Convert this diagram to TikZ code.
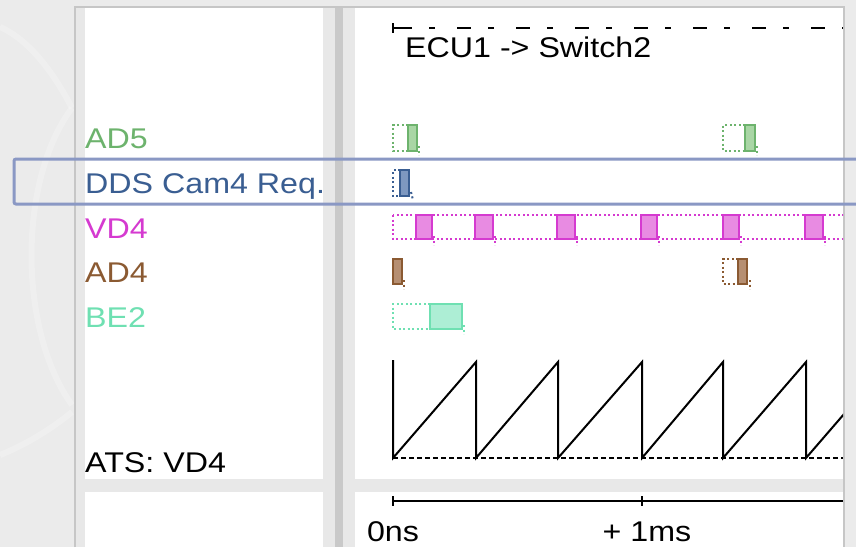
\documentclass[tikz,border=0pt]{standalone}
\usepackage{fontspec}
\setmainfont{Liberation Sans}[FakeStretch=1.13]
\definecolor{bgout}{HTML}{EBEBEB}
\definecolor{gutter}{HTML}{E8E8E8}
\definecolor{framec}{HTML}{C6C6C6}
\definecolor{dividerc}{HTML}{C9C9C9}
\definecolor{hlc}{HTML}{8A98C4}
\definecolor{cgreen}{HTML}{6DB36D}\definecolor{fgreen}{HTML}{A9D6A5}
\definecolor{cblue}{HTML}{3A5E92}\definecolor{fblue}{HTML}{7E98C0}
\definecolor{cmag}{HTML}{D53AD0}\definecolor{fmag}{HTML}{E88BE2}
\definecolor{cbrown}{HTML}{8B5A32}\definecolor{fbrown}{HTML}{B68F72}
\definecolor{cmint}{HTML}{6FE0B2}\definecolor{fmint}{HTML}{ADEED5}
\begin{document}
\begin{tikzpicture}[x=1pt,y=-1pt,
  every node/.style={inner sep=0pt,font=\fontsize{28.5}{32}\selectfont},
  lbl/.style={anchor=base west},
  win/.style={line width=2pt,dash pattern=on 2pt off 2.5pt},
  evt/.style={line width=2.4pt},
  arcline/.style={white,opacity=0.22,line width=6pt},
  plotline/.style={line width=2pt,black}]
\useasboundingbox (0,0) rectangle (856,547);
\fill[bgout] (0,0) rectangle (856,547);
% faint background arcs
\draw[arcline] (0,27) .. controls (30,40) and (55,75) .. (72,108);
\draw[arcline] (72,108) .. controls (18,180) and (18,330) .. (72,405);
\draw[arcline] (72,412) .. controls (50,430) and (25,445) .. (0,455);
% frame
\fill[gutter] (75,7) rectangle (844,547);
\draw[framec,line width=1.5pt] (75,547) -- (75,7) -- (844,7) -- (844,547);
\fill[white] (85,8) rectangle (323,479);
\fill[white] (85,492) rectangle (323,547);
\fill[white] (355,8) rectangle (843,479);
\fill[white] (355,492) rectangle (843,547);
\fill[dividerc] (335,8) rectangle (343,547);
% row labels
\node[lbl,text=cgreen] (lad5) at (85,148) {AD5};
\node[lbl,text=cblue] (ldds) at (85,193) {DDS Cam4 Req.};
\node[lbl,text=cmag] (lvd4) at (85,238) {VD4};
\node[lbl,text=cbrown] (lad4) at (85,282) {AD4};
\node[lbl,text=cmint] (lbe2) at (85,327) {BE2};
\node[lbl,text=black] (lats) at (85,472) {ATS: VD4};
% right panel content
\begin{scope}
\clip (355,8) rectangle (843,479);
% header
\draw[plotline] (393,23) -- (393,33);
\draw[plotline] (393,28) -- (404,28);
\draw[plotline,dash pattern=on 14pt off 17pt on 6pt off 22pt,dash phase=54pt] (393,28) -- (843,28);
\node[lbl] (ecu) at (405,57) {ECU1 -> Switch2};
% AD5
\draw[win,cgreen] (408,125) -- (393,125) -- (393,151) -- (408,151);
\draw[win,cgreen] (419,146) -- (419,155);
\draw[evt,cgreen,fill=fgreen] (408,125) rectangle (417,151);
\draw[win,cgreen] (745,125) -- (723,125) -- (723,151) -- (745,151);
\draw[win,cgreen] (757,146) -- (757,155);
\draw[evt,cgreen,fill=fgreen] (745,125) rectangle (755,151);
% DDS
\draw[win,cblue] (400,170) -- (393,170) -- (393,196) -- (400,196);
\draw[win,cblue] (411,192) -- (413,200);
\draw[evt,cblue,fill=fblue] (400,170) rectangle (409,196);
% VD4
\draw[win,cmag] (393,215) rectangle (860,239);
\foreach \a/\b in {416/432,475/493,557/575,641/657,723/739,805/823}{
  \draw[win,cmag] (\b+1.5,236) -- (\b+1.5,245);
  \draw[evt,cmag,fill=fmag] (\a,215) rectangle (\b,239);
}
% AD4
\draw[win,cbrown] (404,280) -- (404,289);
\draw[evt,cbrown,fill=fbrown] (393,259) rectangle (402,284);
\draw[win,cbrown] (738,259) -- (723,259) -- (723,284) -- (738,284);
\draw[win,cbrown] (750,280) -- (750,289);
\draw[evt,cbrown,fill=fbrown] (738,259) rectangle (747,284);
% BE2
\draw[win,cmint] (430,304) -- (393,304) -- (393,329) -- (430,329);
\draw[win,cmint] (464,325) -- (464,334);
\draw[evt,cmint,fill=fmint] (430,304) rectangle (462,329);
% sawtooth
\draw[plotline,dash pattern=on 5pt off 3pt,line width=1.6pt] (393,458) -- (843,458);
\draw[plotline,line join=miter] (393,360) -- (393,458) -- (476,362) -- (476,458) -- (558,362) -- (558,458)
  -- (642,362) -- (642,458) -- (723,362) -- (723,458) -- (806,362) -- (806,458) -- (889,362);
\end{scope}
% axis
\draw[plotline] (393,501) -- (843,501);
\draw[plotline] (393,496) -- (393,506);
\draw[plotline] (642,496) -- (642,506);
\node[anchor=base] (t0) at (393,541) {0ns};
\node[anchor=base] (t1) at (647,541) {+ 1ms};
% highlight
\draw[hlc,line width=3pt,rounded corners=2pt] (14,159) rectangle (875,204);
\end{tikzpicture}
\end{document}
